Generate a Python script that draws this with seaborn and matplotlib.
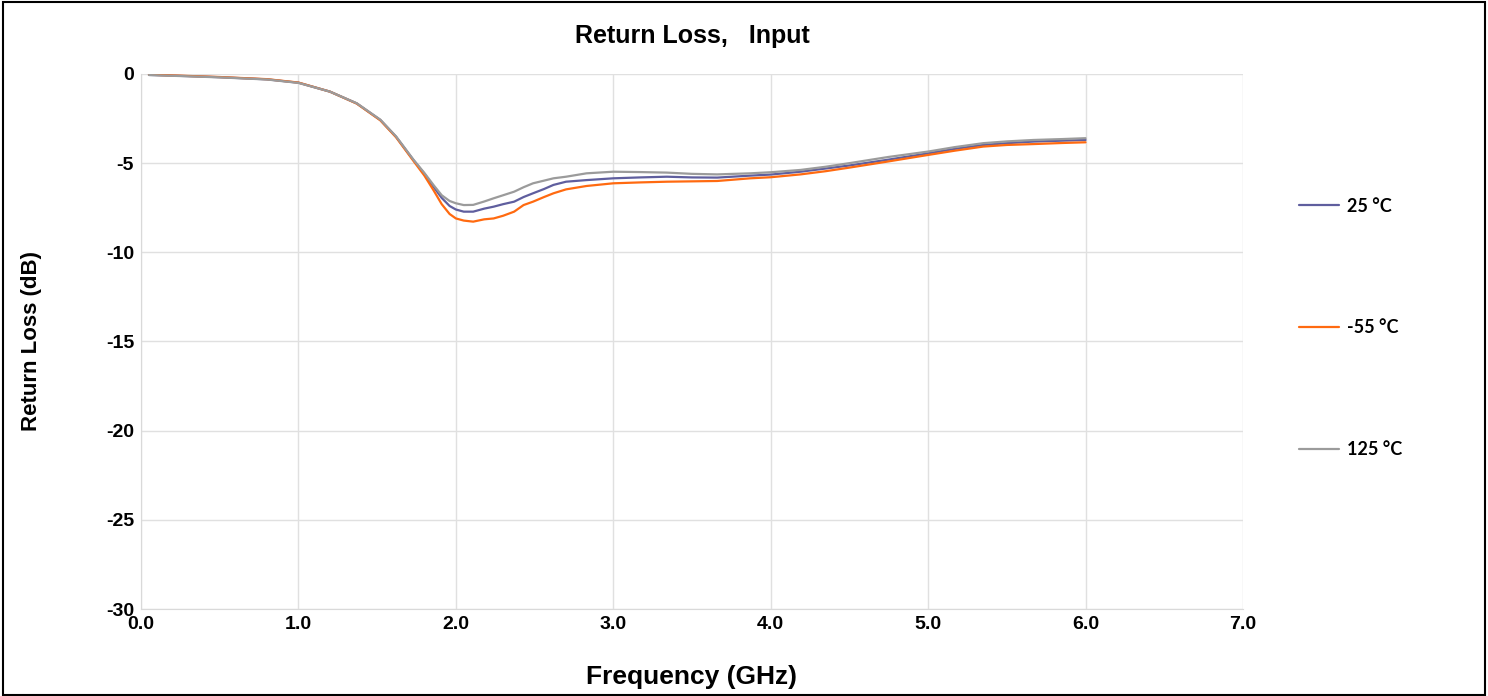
import pandas as pd
import matplotlib.pyplot as plt
import seaborn as sns
from matplotlib.patches import Rectangle

# Frequency points (GHz)
freq = [0.05, 0.3, 0.5, 0.8, 1.0, 1.2, 1.37, 1.52, 1.62, 1.73, 1.80, 1.86, 1.91,
        1.96, 2.0, 2.05, 2.11, 2.18, 2.24, 2.30, 2.37, 2.43, 2.49, 2.56, 2.62, 2.70,
        2.83, 3.0, 3.17, 3.34, 3.5, 3.66, 3.87, 4.0, 4.19, 4.35, 4.5, 4.75,
        5.0, 5.17, 5.35, 5.5, 5.67, 5.85, 6.0]

rl_25 = [-0.05, -0.12, -0.18, -0.30, -0.49, -0.99, -1.65, -2.58, -3.52, -4.82, -5.60, -6.35, -6.95,
         -7.40, -7.60, -7.72, -7.72, -7.55, -7.44, -7.30, -7.16, -6.90, -6.69, -6.45, -6.22, -6.04,
         -5.95, -5.85, -5.80, -5.76, -5.80, -5.81, -5.70, -5.64, -5.48, -5.30, -5.13, -4.80,
         -4.45, -4.20, -3.98, -3.88, -3.79, -3.74, -3.70]

rl_m55 = [-0.04, -0.11, -0.17, -0.29, -0.48, -0.99, -1.66, -2.60, -3.55, -4.87, -5.70, -6.55, -7.30,
          -7.85, -8.10, -8.22, -8.28, -8.15, -8.10, -7.95, -7.72, -7.35, -7.16, -6.90, -6.69, -6.47,
          -6.28, -6.13, -6.08, -6.04, -6.02, -6.00, -5.85, -5.79, -5.63, -5.45, -5.25, -4.90,
          -4.54, -4.30, -4.07, -3.98, -3.93, -3.87, -3.83]

rl_125 = [-0.06, -0.13, -0.19, -0.31, -0.50, -0.99, -1.64, -2.56, -3.50, -4.80, -5.55, -6.25, -6.80,
          -7.12, -7.25, -7.35, -7.34, -7.15, -6.97, -6.80, -6.60, -6.35, -6.13, -5.98, -5.85, -5.76,
          -5.57, -5.48, -5.50, -5.53, -5.60, -5.63, -5.57, -5.51, -5.38, -5.20, -5.00, -4.65,
          -4.35, -4.10, -3.88, -3.78, -3.70, -3.65, -3.60]

labels = ['25 °C', '-55 °C', '125 °C']
colors = ['#5f5e9e', '#ff6a10', '#9b9b9b']

df = pd.concat([
    pd.DataFrame({'freq': freq, 'rl': vals, 'temp': lab})
    for vals, lab in zip([rl_25, rl_m55, rl_125], labels)
])

sns.set_style('white')
plt.rcParams['font.family'] = ['Liberation Sans', 'DejaVu Sans']
plt.rcParams['axes.unicode_minus'] = False
plt.rcParams['text.color'] = 'black'
plt.rcParams['axes.labelcolor'] = 'black'
plt.rcParams['xtick.color'] = 'black'
plt.rcParams['ytick.color'] = 'black'

fig = plt.figure(figsize=(14.88, 6.96), dpi=100)
ax = fig.add_axes([0.0948, 0.125, 0.7405, 0.7687])

sns.lineplot(data=df, x='freq', y='rl', hue='temp', hue_order=labels,
             palette=dict(zip(labels, colors)), linewidth=1.6, sort=False,
             estimator=None, ax=ax)

ax.set_xlim(0, 7)
ax.set_ylim(-30, 0)
ax.set_xticks([0, 1, 2, 3, 4, 5, 6, 7])
ax.set_xticklabels([f'{v:.1f}' for v in range(8)])
ax.set_yticks([0, -5, -10, -15, -20, -25, -30])
ax.set_yticklabels(['0', '-5', '-10', '-15', '-20', '-25', '-30'])
ax.tick_params(length=0, labelsize=14, pad=5)
for t in ax.get_xticklabels() + ax.get_yticklabels():
    t.set_fontweight('bold')

ax.grid(True, color='#e0e0e0', linewidth=1)
for s in ax.spines.values():
    s.set_visible(False)
ax.spines['left'].set_visible(True)
ax.spines['bottom'].set_visible(True)
ax.spines['left'].set_color('#d9d9d9')
ax.spines['bottom'].set_color('#d9d9d9')

ax.set_title('Return Loss,   Input', fontsize=18, fontweight='bold', pad=22)
ax.set_xlabel('Frequency (GHz)', fontsize=19, fontweight='bold', labelpad=23)
ax.set_ylabel('Return Loss (dB)', fontsize=16, fontweight='bold', labelpad=46)

handles, labs = ax.get_legend_handles_labels()
ax.legend_.remove()
fig.legend(handles, labs, loc='center left', bbox_to_anchor=(0.873, 0.529),
           frameon=False, labelspacing=5.8, handlelength=2.2,
           handletextpad=0.45, borderpad=0, borderaxespad=0,
           prop={'family': ['Lato', 'DejaVu Sans'], 'weight': 'bold', 'size': 13})

fig.patches.append(Rectangle((0.002, 0.002), 0.996, 0.995, transform=fig.transFigure,
                             fill=False, edgecolor='black', linewidth=1.5))

plt.savefig('out.png', dpi=100)
